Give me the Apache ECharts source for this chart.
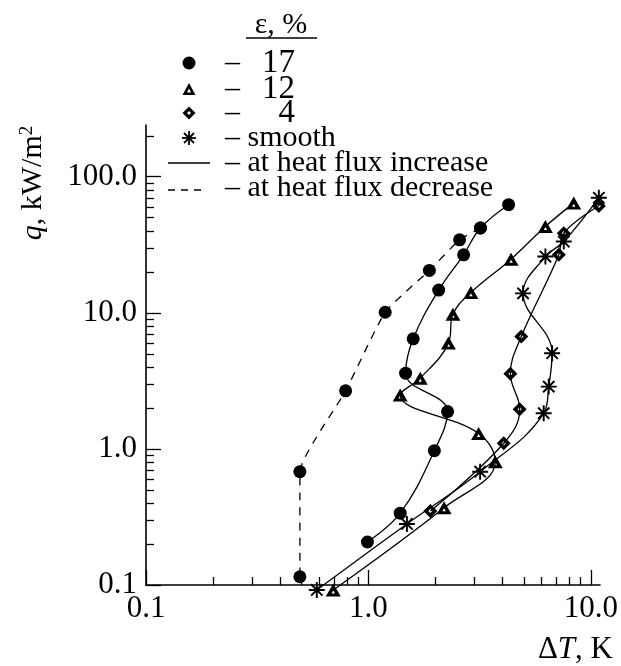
<!DOCTYPE html>
<html><head><meta charset="utf-8">
<script src="https://cdn.jsdelivr.net/npm/echarts@6/dist/echarts.min.js"></script>
<style>html,body{margin:0;padding:0;background:#fff}#c{width:621px;height:666px}</style>
</head><body><div id="c"></div>
<script>
// tick labels
const xTicks = [0.1, 1, 10];
const yTicks = [0.1, 1, 10, 100];
// epsilon = 17 %, at heat flux increase (solid)
const dT17up = [0.99, 1.39, 1.98, 2.27, 1.47, 1.59, 2.07, 2.68, 3.19, 4.27];
const q17up  = [0.207, 0.337, 0.97, 1.88, 3.6, 6.44, 14.7, 26.7, 42, 62.3];
// epsilon = 17 %, at heat flux decrease (dashed)
const dT17down = [3.19, 2.57, 1.88, 1.19, 0.79, 0.492, 0.492];
const q17down  = [42, 34.4, 20.5, 10.1, 2.67, 0.68, 0.115];
// epsilon = 12 %
const dT12 = [0.695, 2.19, 3.72, 3.13, 1.39, 1.71, 2.29, 2.40, 2.89, 4.38, 6.25, 8.38];
const q12  = [0.092, 0.37, 0.806, 1.30, 2.49, 3.31, 5.99, 9.78, 14.1, 24.8, 43.1, 64];
// epsilon = 4 %
const dT4 = [1.90, 4.06, 4.79, 4.35, 4.87, 7.18, 7.56, 10.87];
const q4  = [0.35, 1.10, 1.96, 3.56, 6.69, 26.7, 38.5, 61];
// smooth surface
const dTs = [0.586, 1.49, 3.18, 6.14, 6.47, 6.70, 4.96, 6.25, 7.56, 10.87];
const qs  = [0.092, 0.281, 0.68, 1.83, 2.87, 5.05, 13.9, 25.9, 33.4, 70];

const zip = (a, b) => a.map((v, i) => [v, b[i]]);
const FONT = "'Liberation Serif','Times New Roman',serif";
const triPath = 'path://M10 0 L20 18 L0 18 Z M10 9.5 L7.8 14 L12.2 14 Z';
const diaPath = 'path://M10 0 L20 10 L10 20 L0 10 Z M10 7 L7 10 L10 13 L13 10 Z';
const astPath = 'path://M0 8.8 L20 8.8 L20 11.2 L0 11.2 Z M8.8 0 L11.2 0 L11.2 20 L8.8 20 Z M3.78 2.08 L17.92 16.22 L16.22 17.92 L2.08 3.78 Z M16.22 2.08 L17.92 3.78 L3.78 17.92 L2.08 16.22 Z';

const base = {type: 'line', smooth: 0.4, clip: false, itemStyle: {color: '#000'},
  lineStyle: {color: '#000', width: 1.3}, z: 3};

const chart = echarts.init(document.getElementById('c'));
chart.setOption({
  animation: false,
  backgroundColor: '#fff',
  grid: {left: 146, top: 125, right: 21, bottom: 81, containLabel: false},
  xAxis: {
    type: 'log', min: 0.1, max: 11, logBase: 10,
    axisLine: {lineStyle: {color: '#000', width: 1.6}},
    axisTick: {inside: true, length: 15, lineStyle: {color: '#000', width: 1.3}, customValues: xTicks},
    minorTick: {show: true, splitNumber: 9, length: 8, lineStyle: {color: '#000', width: 1.3}},
    axisLabel: {customValues: xTicks, formatter: v => Number(v).toFixed(1), color: '#000',
      fontFamily: FONT, fontSize: 31, margin: 8},
    splitLine: {show: false}
  },
  yAxis: {
    type: 'log', min: 0.1, max: 240, logBase: 10,
    axisLine: {lineStyle: {color: '#000', width: 1.6}},
    axisTick: {inside: true, length: 15, lineStyle: {color: '#000', width: 1.3}, customValues: yTicks},
    minorTick: {show: true, splitNumber: 9, length: 8, lineStyle: {color: '#000', width: 1.3}},
    axisLabel: {customValues: yTicks, formatter: v => Number(v).toFixed(1), color: '#000',
      fontFamily: FONT, fontSize: 31, margin: 9},
    splitLine: {show: false}
  },
  series: [
    Object.assign({}, base, {name: '17 increase', data: zip(dT17up, q17up), symbol: 'circle', symbolSize: 13}),
    Object.assign({}, base, {name: '17 decrease', data: zip(dT17down, q17down), symbol: 'circle', symbolSize: 13,
      smooth: 0.15, lineStyle: {color: '#000', width: 1.3, type: [8, 7]}}),
    Object.assign({}, base, {name: '12', data: zip(dT12, q12), symbol: triPath, symbolSize: [15, 13]}),
    Object.assign({}, base, {name: '4', data: zip(dT4, q4), symbol: diaPath, symbolSize: [14, 14]}),
    Object.assign({}, base, {name: 'smooth', data: zip(dTs, qs), symbol: astPath, symbolSize: [16, 16]})
  ],
  graphic: [
    {type: 'text', x: 281, y: 25, style: {text: 'ε, %', font: '30px ' + FONT, fill: '#000', textAlign: 'center', textVerticalAlign: 'middle'}},
    {type: 'line', shape: {x1: 246, y1: 38, x2: 317, y2: 38}, style: {stroke: '#000', lineWidth: 1.5}},
    // markers
    {type: 'circle', shape: {cx: 189, cy: 63, r: 6.5}, style: {fill: '#000'}},
    {type: 'polygon', shape: {points: [[189, 83], [195.5, 95], [182.5, 95]]}, style: {fill: '#000'}},
    {type: 'polygon', shape: {points: [[189, 88.5], [187, 92.5], [191, 92.5]]}, style: {fill: '#fff'}},
    {type: 'polygon', shape: {points: [[189, 106.5], [195.5, 113], [189, 119.5], [182.5, 113]]}, style: {fill: '#000'}},
    {type: 'polygon', shape: {points: [[189, 111], [191, 113], [189, 115], [187, 113]]}, style: {fill: '#fff'}},
    {type: 'line', shape: {x1: 182, y1: 138, x2: 196, y2: 138}, style: {stroke: '#000', lineWidth: 1.8}},
    {type: 'line', shape: {x1: 189, y1: 131, x2: 189, y2: 145}, style: {stroke: '#000', lineWidth: 1.8}},
    {type: 'line', shape: {x1: 184, y1: 133, x2: 194, y2: 143}, style: {stroke: '#000', lineWidth: 1.8}},
    {type: 'line', shape: {x1: 194, y1: 133, x2: 184, y2: 143}, style: {stroke: '#000', lineWidth: 1.8}},
    {type: 'line', shape: {x1: 168, y1: 163, x2: 210, y2: 163}, style: {stroke: '#000', lineWidth: 1.3}},
    {type: 'line', shape: {x1: 168, y1: 190, x2: 207, y2: 190}, style: {stroke: '#000', lineWidth: 1.3, lineDash: [7, 6]}},
    // dashes
    {type: 'text', x: 225, y: 63, style: {text: '–', font: '30px ' + FONT, fill: '#000', textVerticalAlign: 'middle'}},
    {type: 'text', x: 225, y: 89, style: {text: '–', font: '30px ' + FONT, fill: '#000', textVerticalAlign: 'middle'}},
    {type: 'text', x: 225, y: 113, style: {text: '–', font: '30px ' + FONT, fill: '#000', textVerticalAlign: 'middle'}},
    {type: 'text', x: 225, y: 138, style: {text: '– smooth', font: '30px ' + FONT, fill: '#000', textVerticalAlign: 'middle'}},
    {type: 'text', x: 225, y: 163, style: {text: '– at heat flux increase', font: '30px ' + FONT, fill: '#000', textVerticalAlign: 'middle'}},
    {type: 'text', x: 225, y: 188, style: {text: '– at heat flux decrease', font: '30px ' + FONT, fill: '#000', textVerticalAlign: 'middle'}},
    {type: 'text', x: 295, y: 63, style: {text: '17', font: '33px ' + FONT, fill: '#000', textAlign: 'right', textVerticalAlign: 'middle'}},
    {type: 'text', x: 295, y: 89, style: {text: '12', font: '33px ' + FONT, fill: '#000', textAlign: 'right', textVerticalAlign: 'middle'}},
    {type: 'text', x: 295, y: 113, style: {text: '4', font: '33px ' + FONT, fill: '#000', textAlign: 'right', textVerticalAlign: 'middle'}},
    // axis titles
    {type: 'text', x: 613, y: 650, style: {
      text: '{a|Δ}{b|T}{a|, K}', textAlign: 'right', textVerticalAlign: 'middle', fill: '#000',
      rich: {a: {fontFamily: FONT, fontSize: 31, fill: '#000'}, b: {fontFamily: FONT, fontSize: 31, fontStyle: 'italic', fill: '#000'}}}},
    {type: 'text', x: 33, y: 183, rotation: Math.PI / 2, style: {
      text: '{b|q}{a|, kW/m}{s|2}', textAlign: 'center', textVerticalAlign: 'middle', fill: '#000',
      rich: {a: {fontFamily: FONT, fontSize: 30, fill: '#000'}, b: {fontFamily: FONT, fontSize: 30, fontStyle: 'italic', fill: '#000'},
        s: {fontFamily: FONT, fontSize: 19, fill: '#000', verticalAlign: 'top'}}}}
  ]
});
</script></body></html>
